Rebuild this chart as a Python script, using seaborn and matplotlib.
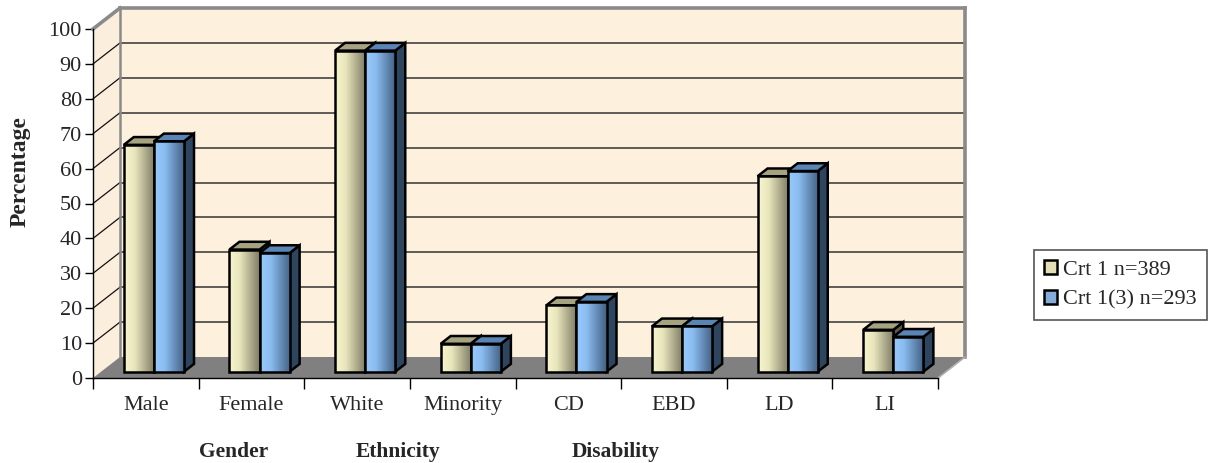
import numpy as np
import pandas as pd
import matplotlib
matplotlib.use("Agg")
import matplotlib.pyplot as plt
import seaborn as sns
from matplotlib.patches import Polygon, Rectangle, Patch
from matplotlib.colors import LinearSegmentedColormap
from matplotlib.transforms import Affine2D, blended_transform_factory

# ---- data -------------------------------------------------------------
categories = ["Male", "Female", "White", "Minority", "CD", "EBD", "LD", "LI"]
crt1 = [65, 35, 92, 8, 19, 13, 56, 12]
crt1_3 = [66, 34, 92, 8, 20, 13, 57.5, 10]
series_names = ["Crt 1 n=389", "Crt 1(3) n=293"]
group_names = ["Gender", "Ethnicity", "Disability"]
y_ticks = list(range(0, 101, 10))

df = pd.DataFrame({
    "category": categories * 2,
    "value": crt1 + crt1_3,
    "series": [series_names[0]] * len(categories) + [series_names[1]] * len(categories),
})

# ---- style ------------------------------------------------------------
sns.set_theme(style="white")
plt.rcParams["font.family"] = ["Liberation Serif", "DejaVu Serif"]
plt.rcParams["axes.linewidth"] = 1.0

front_grad = [
    [(0.975, 0.965, 0.80), (0.91, 0.90, 0.74), (0.49, 0.48, 0.39)],
    [(0.60, 0.79, 0.99), (0.54, 0.74, 0.94), (0.26, 0.37, 0.51)],
]
top_colors = ["#A6A381", "#5A84B4"]
side_colors = ["#5C5A45", "#2E4560"]
legend_colors = ["#E2DFB4", "#84ACD9"]

W, H, DPI = 1225, 463, 100
fig = plt.figure(figsize=(W / DPI, H / DPI), dpi=DPI)
fig.patch.set_facecolor("white")

# front plane of the box (pixel edges)
L, R, T, B = 93, 938, 29, 378
ax = fig.add_axes([L / W, 1 - B / H, (R - L) / W, (B - T) / H])
ax.set_facecolor("none")

sns.barplot(data=df, x="category", y="value", hue="series",
            order=categories, hue_order=series_names,
            palette=legend_colors, width=0.57, saturation=1,
            errorbar=None, legend=False, ax=ax)

ncat = len(categories)
xmin, xmax = -0.5, ncat - 0.5
ax.set_xlim(xmin, xmax)
ax.set_ylim(0, 100)

# depth of the box, pixels -> data units
px_x = (R - L) / (xmax - xmin)
px_y = (B - T) / 100.0
ux, uy = 27 / px_x, 21 / px_y
f0, f1 = 0.30, 0.67          # front / back depth of the bars

# ---- walls and floor --------------------------------------------------
wall_back = "#FDF1DD"
wall_left = "#FCEEDD"
ax.add_patch(Rectangle((xmin + ux, uy), xmax - xmin, 100, fc=wall_back,
                       ec="none", zorder=0.5, clip_on=False))
ax.add_patch(Polygon([(xmin, 0), (xmin, 100), (xmin + ux, 100 + uy), (xmin + ux, uy)],
                     closed=True, fc=wall_left, ec="none", zorder=0.6, clip_on=False))
ax.add_patch(Polygon([(xmin, 0), (xmax, 0), (xmax + ux, uy), (xmin + ux, uy)],
                     closed=True, fc="#808080", ec="none", zorder=0.7, clip_on=False))

for v in y_ticks[1:-1]:
    ax.plot([xmin + ux, xmax + ux], [v + uy, v + uy], color="#333333", lw=1.1,
            zorder=0.8, clip_on=False)
    ax.plot([xmin, xmin + ux], [v, v + uy], color="#111111", lw=0.9,
            zorder=0.8, clip_on=False)

edge_kw = dict(color="#8A8A8A", lw=2.6, zorder=0.9, clip_on=False, solid_capstyle="projecting")
ax.plot([xmin + ux, xmax + ux], [100 + uy, 100 + uy], **edge_kw)
ax.plot([xmax + ux, xmax + ux], [uy, 100 + uy], **edge_kw)
ax.plot([xmin + ux, xmin + ux], [uy, 100 + uy], color="#8A8A8A", lw=1.8, zorder=0.9, clip_on=False)
ax.plot([xmin, xmin + ux], [100, 100 + uy], **edge_kw)
ax.plot([xmax, xmax + ux], [0, uy], color="#B0B0B0", lw=1.2, zorder=0.9, clip_on=False)

# ---- 3-D bars ---------------------------------------------------------
grad = np.linspace(0, 1, 256)[None, :]
front = Affine2D().translate(f0 * ux, f0 * uy) + ax.transData
for k, cont in enumerate(ax.containers):
    cmap = LinearSegmentedColormap.from_list(f"face{k}", list(zip([0, 0.35, 1], front_grad[k])))
    for bar in cont:
        x0, w, h = bar.get_x(), bar.get_width(), bar.get_height()
        x1 = x0 + w
        ci = int(round(x0 + w / 2 + (0.5 - k) * w))
        z = 2 + ci * 0.5 + k * 0.2
        bar.set_transform(front)
        bar.set_facecolor("none")
        bar.set_edgecolor("black")
        bar.set_linewidth(1.8)
        bar.set_joinstyle("miter")
        bar.set_zorder(z + 0.05)
        im = ax.imshow(grad, cmap=cmap, extent=(x0, x1, 0, h), aspect="auto",
                       interpolation="bilinear", transform=front, zorder=z)
        im.set_clip_path(bar)
        top = [(x0 + f0 * ux, h + f0 * uy), (x1 + f0 * ux, h + f0 * uy),
               (x1 + f1 * ux, h + f1 * uy), (x0 + f1 * ux, h + f1 * uy)]
        side = [(x1 + f0 * ux, f0 * uy), (x1 + f1 * ux, f1 * uy),
                (x1 + f1 * ux, h + f1 * uy), (x1 + f0 * ux, h + f0 * uy)]
        ax.add_patch(Polygon(side, closed=True, fc=side_colors[k], ec="black",
                             lw=1.8, joinstyle="miter", zorder=z - 0.02, clip_on=False))
        ax.add_patch(Polygon(top, closed=True, fc=top_colors[k], ec="black",
                             lw=1.8, joinstyle="miter", zorder=z - 0.01, clip_on=False))

ax.set_xlim(xmin, xmax)
ax.set_ylim(0, 100)

# ---- axes -------------------------------------------------------------
for s in ["top", "right"]:
    ax.spines[s].set_visible(False)
for s in ["left", "bottom"]:
    ax.spines[s].set_color("black")
    ax.spines[s].set_linewidth(1.0)
    ax.spines[s].set_zorder(1.0)

ax.set_yticks(y_ticks)
ax.set_yticklabels([str(v) for v in y_ticks])
ax.set_xticks(range(ncat))
ax.set_xticklabels(categories)
ax.set_xticks(np.arange(xmin, xmax + 0.01, 1), minor=True)
ax.tick_params(axis="y", which="major", direction="out", length=6, width=1,
               color="black", pad=2, labelsize=16, left=True)
ax.tick_params(axis="x", which="major", length=0, pad=13, labelsize=16, bottom=True)
ax.tick_params(axis="x", which="minor", direction="out", length=8, width=1,
               color="black", bottom=True)
ax.set_xlabel("")
ax.set_ylabel("")

fig.text(20 / W, 1 - 172 / H, "Percentage", rotation=90, ha="center", va="center",
         fontsize=17, fontweight="bold")

group_trans = blended_transform_factory(ax.transData, fig.transFigure)
for name, gx in zip(group_names, [0.835, 2.39, 4.45]):
    ax.text(gx, 1 - 452 / H, name, transform=group_trans, ha="center", va="center",
            fontsize=15.5, fontweight="bold", clip_on=False)

handles = [Patch(facecolor=c, edgecolor="black", linewidth=1.8) for c in legend_colors]
leg = fig.legend(handles, series_names, loc="upper left",
                 bbox_to_anchor=(1034 / W, 1 - 250 / H), frameon=True, fancybox=False,
                 framealpha=1, edgecolor="#555555", fontsize=16,
                 handlelength=0.6, handleheight=0.6, handletextpad=0.25,
                 labelspacing=0.45, borderpad=0.45, borderaxespad=0)
leg.get_frame().set_linewidth(1.2)

fig.savefig("out.png", dpi=DPI, facecolor="white")
